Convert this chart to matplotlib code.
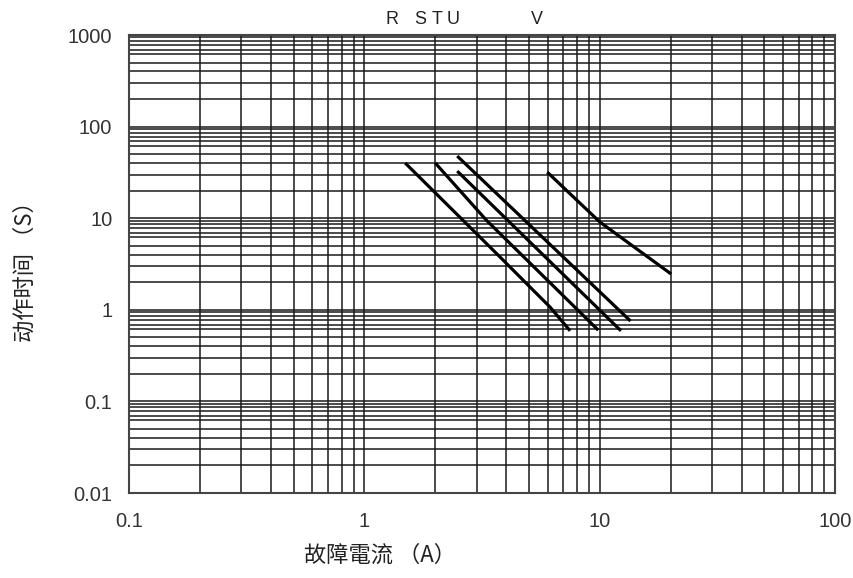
import numpy as np
import matplotlib.pyplot as plt
from matplotlib.ticker import FixedLocator, NullFormatter

plt.rcParams['font.family'] = ['Liberation Sans', 'DejaVu Sans']

# curve data (fault current A, operating time s)
curve_names = ['R', 'S', 'T', 'U', 'V']
r_current = [1.49, 3.77, 6.15, 7.48]
r_time = [40.1, 3.77, 1.07, 0.59]
s_current = [2.0, 3.3, 9.85]
s_time = [40.1, 9.5, 0.60]
t_current = [2.48, 12.3]
t_time = [32.7, 0.59]
u_current = [2.48, 13.5]
u_time = [47.7, 0.755]
v_current = [5.98, 10.0, 20.1]
v_time = [31.9, 9.1, 2.46]
label_current = [1.31, 1.73, 2.04, 2.38, 5.42]

x_ticks = [0.1, 1, 10, 100]
x_labels = ['0.1', '1', '10', '100']
y_ticks = [0.01, 0.1, 1, 10, 100, 1000]
y_labels = ['0.01', '0.1', '1', '10', '100', '1000']

fig = plt.figure(figsize=(8.54, 5.78), dpi=100)
ax = fig.add_axes([0.151, 0.147, 0.827, 0.7924])
ax.set_xscale('log')
ax.set_yscale('log')
ax.set_xlim(0.1, 100)
ax.set_ylim(0.01, 1000)

# grid lines
x_minor = [k * 10.0 ** e for e in range(-1, 2) for k in range(2, 10)]
y_minor = [k * 10.0 ** e for e in range(-2, 3) for k in [2, 3, 4, 5, 6.2, 6.9, 7.8, 8.6, 9.4]]
ax.xaxis.set_minor_locator(FixedLocator(x_minor))
ax.yaxis.set_minor_locator(FixedLocator(y_minor))
ax.xaxis.set_minor_formatter(NullFormatter())
ax.yaxis.set_minor_formatter(NullFormatter())
ax.set_xticks(x_ticks, x_labels)
ax.set_yticks(y_ticks, y_labels)
ax.grid(True, which='both', color='#1a1a1a', linewidth=1.1)
ax.tick_params(which='both', length=0)
ax.tick_params(axis='x', pad=14, labelsize=14.5, labelcolor='#333333')
ax.tick_params(axis='y', pad=12, labelsize=14.5, labelcolor='#333333')
for sp in ax.spines.values():
    sp.set_color('#444444')
    sp.set_linewidth(1.5)

curves = [(r_current, r_time), (s_current, s_time), (t_current, t_time),
          (u_current, u_time), (v_current, v_time)]
for cx, cy in curves:
    ax.plot(cx, cy, color='black', linewidth=2.3, solid_capstyle='butt', zorder=3)

for name, lx in zip(curve_names, label_current):
    ax.annotate(name, xy=(lx, 1), xycoords=('data', 'axes fraction'),
                xytext=(0, 5), textcoords='offset points',
                ha='center', va='bottom', fontsize=13, color='#222222')

cjk = ['Noto Sans CJK SC', 'DejaVu Sans']
fig.text(0.445, 0.04, '故障電流 （A）', family=cjk, fontsize=16,
         ha='center', va='center', color='#222222')
fig.text(0.03, 0.54, '动作时间 （S）', family=cjk, fontsize=16,
         ha='center', va='center', rotation=90, color='#222222')

fig.savefig('out.png', dpi=100)
